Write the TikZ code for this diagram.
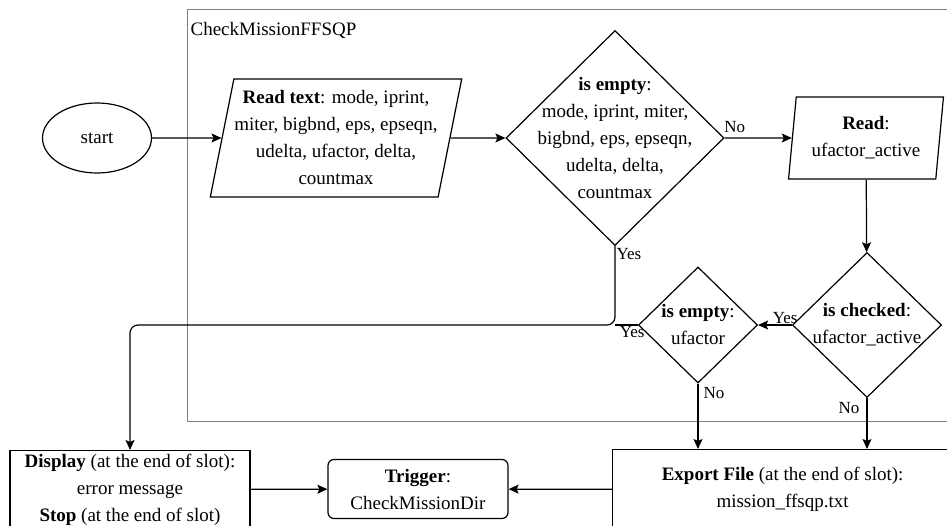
\documentclass[tikz,border=0pt]{standalone}
\usepackage{fontspec}
\setmainfont{Liberation Serif}
\usetikzlibrary{positioning, shapes.geometric, arrows.meta, calc}

\begin{document}
\begin{tikzpicture}[x=1pt, y=-1pt, font=\fontsize{19}{27}\selectfont, line width=1.2pt,
  io/.style={trapezium, draw, align=center, trapezium stretches=true, inner sep=0pt},
  decision/.style={diamond, draw, inner sep=0pt},
  proc/.style={rectangle, draw, align=center, inner sep=0pt},
  flow/.style={-{Stealth[length=10pt, width=9pt, inset=2pt]}},
  lbl/.style={font=\fontsize{17}{20}\selectfont, inner sep=1pt}]

  \useasboundingbox (0,0) rectangle (947,526);
  \clip (0,0) rectangle (947,526);

  % sub-process frame
  \draw[gray, line width=0.8pt] (187,9) rectangle (980,421);
  \node[anchor=west, inner sep=0pt] (frametitle) at (190,30) {CheckMissionFFSQP};

  \node[ellipse, draw, minimum width=109pt, minimum height=70pt] (start) at (97,138) {start};
  \node[io, trapezium left angle=76, trapezium right angle=104,
        minimum width=252pt, minimum height=118pt] (readtext) at (336,138)
        {\textbf{Read text}: mode, iprint,\\miter, bigbnd, eps, epseqn,\\udelta, ufactor, delta,\\countmax};
  \node[decision, minimum width=218pt, minimum height=215pt,
        label={[align=center]center:\textbf{is empty}:\\mode, iprint, miter,\\bigbnd, eps, epseqn,\\udelta, delta,\\countmax}]
        (isempty) at (615,138) {};
  \node[io, trapezium left angle=82, trapezium right angle=98,
        minimum width=155pt, minimum height=82pt] (readuf) at (866,138)
        {\textbf{Read}:\\ufactor\_active};
  \node[decision, minimum width=149pt, minimum height=145pt,
        label={[align=center]center:\textbf{is checked}:\\ufactor\_active}]
        (ischecked) at (867,325) {};
  \node[decision, minimum width=119pt, minimum height=116pt,
        label={[align=center]center:\textbf{is empty}:\\ufactor}]
        (isemptyuf) at (698,325) {};

  \node[proc, minimum width=240pt, minimum height=78pt, anchor=north] (display) at (130,450)
        {\textbf{Display} (at the end of slot):\\error message\\\textbf{Stop} (at the end of slot)};
  \node[proc, rounded corners=6pt, minimum width=180pt, minimum height=59pt] (trigger) at (418,489)
        {\textbf{Trigger}:\\CheckMissionDir};
  \node[proc, minimum width=340pt, minimum height=80pt, anchor=north west] (export) at (612,449)
        {\textbf{Export File} (at the end of slot):\\mission\_ffsqp.txt};

  \coordinate (merge) at (isempty.south |- isemptyuf.west);

  \draw[flow] (start) -- (readtext);
  \draw[flow] (readtext) -- (isempty);
  \draw[flow] (isempty) -- node[lbl, above, pos=0.15, yshift=4pt]{No} (readuf);
  \draw[flow] (readuf) -- (ischecked);
  \draw[flow] (ischecked) -- node[lbl, above, pos=0.2]{Yes} (isemptyuf);
  \draw[flow] (ischecked) -- node[lbl, left, pos=0.2, xshift=-6pt]{No} (ischecked.south |- export.north);
  \draw[flow] (isemptyuf) -- node[lbl, right, pos=0.15, xshift=4pt]{No} (isemptyuf.south |- export.north);
  \draw[flow, rounded corners=8pt] (isempty.south) |- node[lbl, right, pos=0.05]{Yes} (display.north |- merge) -- (display.north);
  \draw (isemptyuf.west) -- node[lbl, below, pos=0.25]{Yes} (merge);
  \draw[flow] (display) -- (trigger);
  \draw[flow] (export) -- (trigger);
\end{tikzpicture}
\end{document}
